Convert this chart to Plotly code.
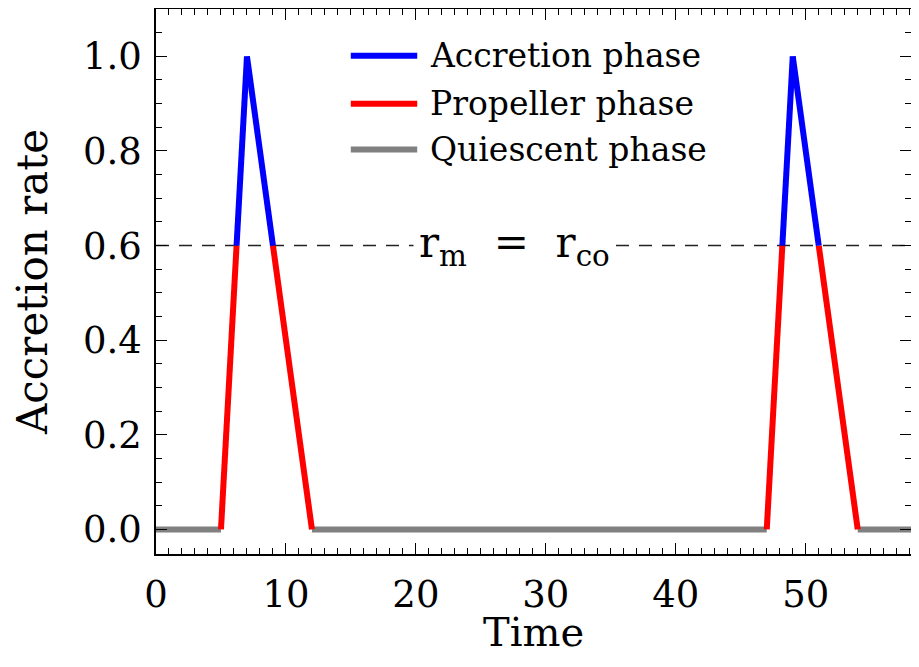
import plotly.graph_objects as go

# accretion rate vs time, two outburst cycles
time = [0, 5, 6.2, 7, 9, 12, 47, 48.2, 49, 51, 54, 60]
rate = [0, 0, 0.6, 1.0, 0.6, 0, 0, 0.6, 1.0, 0.6, 0, 0]
# phase of each segment between consecutive points
seg_phase = ["Q", "P", "A", "A", "P", "Q", "P", "A", "A", "P", "Q"]

threshold = 0.6  # r_m = r_co

phases = ["A", "P", "Q"]
phase_names = {"A": "Accretion phase", "P": "Propeller phase", "Q": "Quiescent phase"}
phase_colors = {"A": "#0000ff", "P": "#ff0000", "Q": "#808080"}

FONT = "DejaVu Serif"

fig = go.Figure()

# quiescent first so the coloured peaks sit on top
for p in ["Q", "P", "A"]:
    xs, ys = [], []
    for i, sp in enumerate(seg_phase):
        if sp == p:
            xs += [time[i], time[i + 1], None]
            ys += [rate[i], rate[i + 1], None]
    fig.add_trace(go.Scatter(
        x=xs, y=ys, mode="lines", name=phase_names[p],
        line=dict(color=phase_colors[p], width=6),
        showlegend=False, hoverinfo="skip",
    ))

fig.add_hline(y=threshold, line=dict(color="#222222", width=1.5, dash="13px,10px"),
              layer="below")

fig.add_annotation(
    x=27.6, y=threshold, xref="x", yref="y",
    text="r<sub>m</sub>  =  r<sub>co</sub>",
    showarrow=False, bgcolor="white", borderpad=5,
    font=dict(family=FONT, size=42, color="black"),
)

# hand-drawn legend
leg_y = [0.914, 0.826, 0.742]
for p, yy in zip(phases, leg_y):
    fig.add_shape(type="line", xref="paper", yref="paper",
                  x0=0.258, x1=0.346, y0=yy, y1=yy,
                  line=dict(color=phase_colors[p], width=6))
    fig.add_annotation(x=0.36, y=yy, xref="paper", yref="paper",
                       text=phase_names[p], showarrow=False,
                       xanchor="left", yanchor="middle",
                       font=dict(family=FONT, size=33, color="black"))

# x title as annotation: axis title gets squeezed by the fixed margin
fig.add_annotation(x=0.5, y=0, xref="paper", yref="paper", yshift=-78,
                   text="Time", showarrow=False, yanchor="middle", borderpad=0,
                   font=dict(family=FONT, size=40, color="black"))

axis_common = dict(
    showline=True, linecolor="black", linewidth=1.5, mirror="ticks",
    ticks="inside", ticklen=11, tickwidth=1.3, tickcolor="black",
    showgrid=False, zeroline=False,
    tickfont=dict(family=FONT, size=37, color="black"),
)

fig.update_xaxes(
    range=[0, 58.1], dtick=10, tick0=0,
    minor=dict(dtick=1, ticks="inside", ticklen=6, tickcolor="black", tickwidth=1.2),
    ticklabelstandoff=7,
    **axis_common,
)
fig.update_yaxes(
    range=[-0.052, 1.1], dtick=0.2, tick0=0, tickformat=".1f",
    minor=dict(dtick=0.05, ticks="inside", ticklen=6, tickcolor="black", tickwidth=1.2),
    title=dict(text="Accretion rate", font=dict(family=FONT, size=42, color="black"), standoff=40),
    ticklabelstandoff=5,
    **axis_common,
)

# page body adds an 8px margin, so the figure is sized to fit without scrolling
fig.update_layout(
    width=903, height=651,
    margin=dict(l=148, r=0, t=1, b=105, autoexpand=False),
    plot_bgcolor="white", paper_bgcolor="white",
    showlegend=False,
)

fig.write_html("out.html")
